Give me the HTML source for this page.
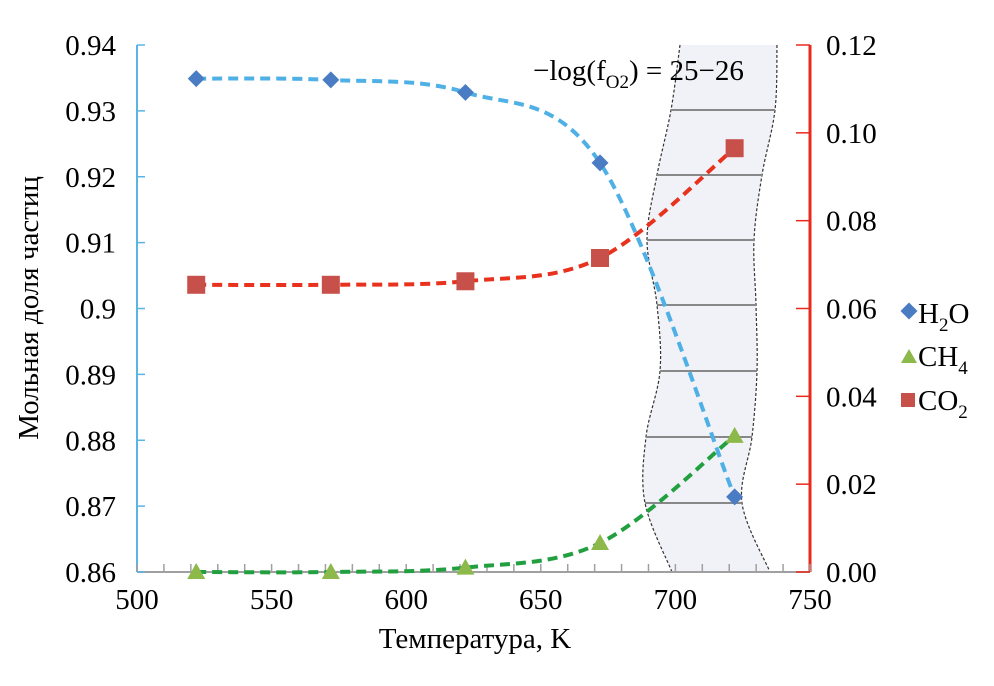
<!DOCTYPE html>
<html><head><meta charset="utf-8"><style>
html,body{margin:0;padding:0;background:#fff;}
svg{display:block;}
text{font-family:"Liberation Serif","DejaVu Serif",serif;}
</style></head><body>
<svg id="chart" width="994" height="686" viewBox="0 0 994 686" font-family="Liberation Serif, serif">
<g id="band"></g>
<g id="axes"></g>
<g id="series"></g>
<text x="533" y="80" font-size="29" font-family="Liberation Serif, serif">−log(f<tspan font-size="19" dy="8">O2</tspan><tspan dy="-8">) = 25−26</tspan></text>
<g>
<g><rect x="903" y="305" width="12" height="12" fill="#4a7cc4" transform="rotate(45 909 311)"/><text x="918" y="323" font-size="29" font-family="Liberation Serif, serif">H<tspan font-size="19" dy="8">2</tspan><tspan dy="-8">O</tspan></text></g>
<g><path d="M901 363 L909 349 L917 363 Z" fill="#8db84a"/><text x="918" y="366" font-size="29" font-family="Liberation Serif, serif">CH<tspan font-size="19" dy="8">4</tspan></text></g>
<g><rect x="901" y="393" width="14" height="14" fill="#c8504b"/><text x="918" y="410" font-size="29" font-family="Liberation Serif, serif">CO<tspan font-size="19" dy="8">2</tspan></text></g>
</g>
<text x="475" y="648" font-size="29" text-anchor="middle" font-family="Liberation Serif, serif">Температура, K</text>
<text transform="translate(38 308) rotate(-90)" font-size="29" text-anchor="middle" font-family="Liberation Serif, serif">Мольная доля частиц</text>
</svg>
<script>
const temps=[522,572,622,672,722];
const h2o=[0.9349,0.9347,0.9328,0.9221,0.8714];
const ch4=[0.0,0.0,0.001,0.0066,0.031];
const co2=[0.0654,0.0654,0.0662,0.0715,0.0965];
const xTicks=[500,550,600,650,700,750];
const yLeftTicks=[0.86,0.87,0.88,0.89,0.90,0.91,0.92,0.93,0.94];
const yLeftLabels=["0.86","0.87","0.88","0.89","0.9","0.91","0.92","0.93","0.94"];
const yRightTicks=[0,0.02,0.04,0.06,0.08,0.10,0.12];
const yRightLabels=["0.00","0.02","0.04","0.06","0.08","0.10","0.12"];
const X0=137,X1=810,Y0=572,Y1=45;
const sx=v=>X0+(v-500)/250*(X1-X0);
const syL=v=>Y0-(v-0.86)/0.08*(Y0-Y1);
const syR=v=>Y0-v/0.12*(Y0-Y1);
const NS='http://www.w3.org/2000/svg';
function mk(tag,attrs,parent){const e=document.createElementNS(NS,tag);for(const k in attrs)e.setAttribute(k,attrs[k]);parent.appendChild(e);return e;}
function spline(pts){let d=`M${pts[0][0]} ${pts[0][1]}`;for(let i=0;i<pts.length-1;i++){const p0=pts[i-1]||pts[i],p1=pts[i],p2=pts[i+1],p3=pts[i+2]||p2;
 d+=` C${p1[0]+(p2[0]-p0[0])/6} ${p1[1]+(p2[1]-p0[1])/6} ${p2[0]-(p3[0]-p1[0])/6} ${p2[1]-(p3[1]-p1[1])/6} ${p2[0]} ${p2[1]}`;}return d;}
const band=document.getElementById('band'),axes=document.getElementById('axes'),series=document.getElementById('series');
const leftB=[[680,45],[671,110],[657,175],[647,240],[657,305],[660,371],[646,437],[645,503],[672,572]];
const rightB=[[777,45],[775,110],[762,175],[754,240],[756,305],[757,371],[752,437],[742,503],[770,572]];
let e=mk('path',{d:spline(leftB)+' L770 572 '+spline(rightB.slice().reverse()).replace(/^M/,'L')+' Z',fill:'#f1f1f8',stroke:'none'},band);

[leftB,rightB].forEach(b=>{const l=mk('path',{d:spline(b),fill:'none',stroke:'#333','stroke-width':1.2,'stroke-dasharray':'3 2'},band);
 });
for(let i=1;i<=7;i++){const r=[leftB[i][1],leftB[i][0],rightB[i][0]];
 const l=mk('line',{x1:r[1],x2:r[2],y1:r[0],y2:r[0],stroke:'#888','stroke-width':2},band);
 
}
e=mk('line',{x1:X0,x2:X1,y1:Y0,y2:Y0,stroke:'#a0a0a0','stroke-width':2},axes);

e=mk('line',{x1:X0,x2:X0,y1:Y1,y2:Y0,stroke:'#5ab4e6','stroke-width':2},axes);

e=mk('line',{x1:X1,x2:X1,y1:Y1,y2:Y0,stroke:'#e82a1e','stroke-width':3},axes);

for(let v=500;v<=750;v+=10){mk('line',{x1:sx(v),x2:sx(v),y1:Y0,y2:Y0-8,stroke:'#a0a0a0','stroke-width':1.5},axes);}
const FF='Liberation Serif, serif';
xTicks.forEach(v=>{const t=mk('text',{x:sx(v),y:Y0+37,'font-size':29,'text-anchor':'middle','font-family':FF},axes);t.textContent=v;
 });
yLeftTicks.forEach((v,i)=>{mk('line',{x1:X0,x2:X0+8,y1:syL(v),y2:syL(v),stroke:'#5ab4e6','stroke-width':1.5},axes);
 const t=mk('text',{x:116,y:syL(v)+10,'font-size':29,'text-anchor':'end','font-family':FF},axes);t.textContent=yLeftLabels[i];
 });
yRightTicks.forEach((v,i)=>{mk('line',{x1:X1-14,x2:X1,y1:syR(v),y2:syR(v),stroke:'#e82a1e','stroke-width':1.5},axes);
 const t=mk('text',{x:826,y:syR(v)+10,'font-size':29,'font-family':FF},axes);t.textContent=yRightLabels[i];
 });
function drawSeries(name,vals,sy,lineColor,markColor,shape){
 const pts=temps.map((t,i)=>[sx(t),sy(vals[i])]);
 const p=mk('path',{d:spline(pts),fill:'none',stroke:lineColor,'stroke-width':4,'stroke-dasharray':'10 6'},series);
 
 pts.forEach(([x,y])=>{let m;
  if(shape==='d')m=mk('rect',{x:x-6,y:y-6,width:12,height:12,fill:markColor,transform:`rotate(45 ${x} ${y})`},series);
  else if(shape==='t')m=mk('path',{d:`M${x-9} ${y+7} L${x} ${y-9} L${x+9} ${y+7} Z`,fill:markColor},series);
  else m=mk('rect',{x:x-9,y:y-9,width:18,height:18,fill:markColor},series);
  });
}
drawSeries('ch4',ch4,syR,'#22a040','#8db84a','t');
drawSeries('co2',co2,syR,'#e8321e','#c8504b','s');
drawSeries('h2o',h2o,syL,'#4fb0e6','#4a7cc4','d');
</script>
</body></html>
